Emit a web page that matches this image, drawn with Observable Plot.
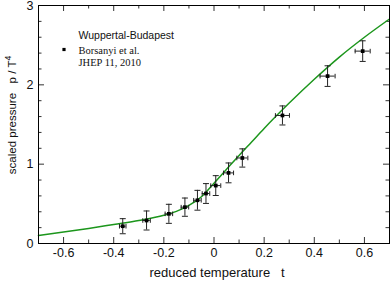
<!DOCTYPE html>
<html><head><meta charset="utf-8">
<script src="https://cdn.jsdelivr.net/npm/d3@7"></script>
<script src="https://cdn.jsdelivr.net/npm/@observablehq/plot@0.6"></script>
<style>
body{margin:0;background:#fff}
svg{display:block}
svg text{white-space:pre}
</style>
</head><body><div id="chart"></div>
<script>
// lattice data points: reduced temperature t, scaled pressure p/T^4, errors
const pointT  = [-0.364,-0.269,-0.180,-0.116,-0.066,-0.032,0.007,0.058,0.113,0.273,0.453,0.593];
const pointP  = [0.218,0.290,0.374,0.458,0.545,0.630,0.730,0.890,1.078,1.614,2.110,2.425];
const pointDT = [0.013,0.015,0.015,0.015,0.015,0.015,0.020,0.020,0.022,0.028,0.030,0.030];
const pointDP = [0.095,0.120,0.120,0.115,0.125,0.125,0.125,0.125,0.115,0.120,0.130,0.130];
// green model curve
const curveT = [-0.7,-0.6,-0.5,-0.4,-0.3,-0.2,-0.15,-0.1,-0.05,0,0.05,0.1,0.15,0.2,0.3,0.4,0.5,0.6,0.7];
const curveP = [0.10,0.145,0.19,0.24,0.29,0.355,0.405,0.48,0.59,0.76,0.935,1.11,1.28,1.45,1.77,2.07,2.35,2.60,2.83];
// ticks
const xMajorTicks = [-0.6,-0.4,-0.2,0,0.2,0.4,0.6];
const xMinorTicks = [-0.5,-0.3,-0.1,0.1,0.3,0.5];
const yMajorTicks = [0,1,2,3];
const yMinorTicks = [0.2,0.4,0.6,0.8,1.2,1.4,1.6,1.8,2.2,2.4,2.6,2.8];
// texts
const xLabel = "reduced temperature   t";
const yLabel = "scaled pressure   p / T";
const yLabelSup = "4";
const legendTitle = "Wuppertal-Budapest";
const legendLines = ["Borsanyi et al.", "JHEP 11, 2010"];

const W = 390, H = 281, mL = 38, mR = 1, mT = 5, mB = 38;
const plotH = H - mT - mB, plotW = W - mL - mR;
const pts = pointT.map((t, i) => ({t, p: pointP[i], dt: pointDT[i], dp: pointDP[i]}));
const curve = curveT.map((t, i) => ({t, p: curveP[i]}));

const capH = {draw(ctx, size) { const w = Math.sqrt(size / Math.PI); ctx.moveTo(-w, 0); ctx.lineTo(w, 0); }};
const capV = {draw(ctx, size) { const w = Math.sqrt(size / Math.PI); ctx.moveTo(0, -w); ctx.lineTo(0, w); }};
const ink = "#111", barInk = "#222", tickInk = "#333", green = "#1c961c";

const chart = Plot.plot({
  width: W, height: H,
  marginLeft: mL, marginRight: mR, marginTop: mT, marginBottom: mB,
  x: {domain: [-0.7, 0.7]},
  y: {domain: [0, 3]},
  style: {fontFamily: "'Liberation Sans', Arial, sans-serif", fontSize: "12.5px", color: ink, background: "#fff"},
  marks: [
    // inward ticks
    Plot.ruleX(xMajorTicks, {x: d => d, insetTop: plotH - 6, stroke: tickInk}),
    Plot.ruleX(xMinorTicks, {x: d => d, insetTop: plotH - 3.5, stroke: tickInk}),
    Plot.ruleX(xMajorTicks, {x: d => d, insetBottom: plotH - 6, stroke: tickInk}),
    Plot.ruleX(xMinorTicks, {x: d => d, insetBottom: plotH - 3.5, stroke: tickInk}),
    Plot.ruleY(yMajorTicks, {y: d => d, insetRight: plotW - 6, stroke: tickInk}),
    Plot.ruleY(yMinorTicks, {y: d => d, insetRight: plotW - 3.5, stroke: tickInk}),
    Plot.ruleY(yMajorTicks, {y: d => d, insetLeft: plotW - 6, stroke: tickInk}),
    Plot.ruleY(yMinorTicks, {y: d => d, insetLeft: plotW - 3.5, stroke: tickInk}),
    Plot.axisX({ticks: xMajorTicks, tickSize: 0, tickPadding: 5, tickFormat: d => String(d), label: null, fontSize: 12.5}),
    Plot.axisY({ticks: yMajorTicks, tickSize: 0, tickPadding: 5, tickFormat: d => String(d), label: null, fontSize: 12.5}),
    // model curve
    Plot.line(curve, {x: "t", y: "p", curve: "monotone-x", stroke: green, strokeWidth: 1.5}),
    // error bars
    Plot.ruleX(pts, {x: "t", y1: d => d.p - d.dp, y2: d => d.p + d.dp, stroke: barInk, strokeWidth: 1}),
    Plot.ruleY(pts, {y: "p", x1: d => d.t - d.dt, x2: d => d.t + d.dt, stroke: barInk, strokeWidth: 1}),
    Plot.dot(pts, {x: "t", y: d => d.p - d.dp, symbol: capH, r: 3, stroke: barInk, strokeWidth: 1, fill: "none"}),
    Plot.dot(pts, {x: "t", y: d => d.p + d.dp, symbol: capH, r: 3, stroke: barInk, strokeWidth: 1, fill: "none"}),
    Plot.dot(pts, {x: d => d.t - d.dt, y: "p", symbol: capV, r: 2.3, stroke: barInk, strokeWidth: 1, fill: "none"}),
    Plot.dot(pts, {x: d => d.t + d.dt, y: "p", symbol: capV, r: 2.3, stroke: barInk, strokeWidth: 1, fill: "none"}),
    Plot.dot(pts, {x: "t", y: "p", symbol: "square", r: 2.1, fill: "#000", stroke: null}),
    // frame
    Plot.frame({stroke: "#000", strokeWidth: 1}),
    // legend
    Plot.text([legendTitle], {frameAnchor: "top-left", text: d => d, dx: 40, dy: 26, textAnchor: "start", lineAnchor: "top", fontSize: 10.5, fill: ink}),
    Plot.text([legendLines.join("\n")], {frameAnchor: "top-left", text: d => d, dx: 40, dy: 40, textAnchor: "start", lineAnchor: "top", lineHeight: 1.15, fontSize: 10.5, fontFamily: "'Liberation Serif', 'Times New Roman', serif", fill: ink}),
    Plot.dot([legendTitle], {x: null, y: null, frameAnchor: "top-left", dx: 25.5, dy: 44, symbol: "square", r: 1.8, fill: "#000", stroke: null}),
    // axis labels
    Plot.text([xLabel], {frameAnchor: "bottom", text: d => d, dx: 3, dy: 29, textAnchor: "middle", lineAnchor: "middle", fontSize: 13, fill: ink}),
    Plot.text([yLabel], {frameAnchor: "left", text: d => d, rotate: -90, dx: -26.5, dy: -9.5, textAnchor: "middle", lineAnchor: "middle", fontSize: 11.5, fill: ink})
  ]
});

// superscript on the y label
chart.querySelectorAll("text").forEach(t => {
  if (t.textContent === yLabel) {
    const s = document.createElementNS("http://www.w3.org/2000/svg", "tspan");
    s.setAttribute("font-size", "8.5");
    s.setAttribute("dy", "-4.5");
    s.textContent = yLabelSup;
    t.appendChild(s);
  }
});
document.getElementById("chart").appendChild(chart);
</script>
</body></html>
